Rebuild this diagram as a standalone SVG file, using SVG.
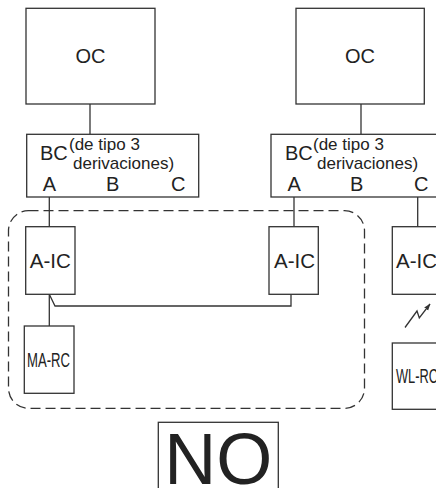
<svg xmlns="http://www.w3.org/2000/svg" width="436" height="488" viewBox="0 0 436 488">
<style>
.box{fill:#fff;stroke:#333;stroke-width:1.3}
.ln{fill:none;stroke:#333;stroke-width:1.3}
.t{font-family:"Liberation Sans",Arial,sans-serif;fill:#222}
.b{font-size:20px}
.s{font-size:17px}
.c{font-size:20.5px}
</style>
<defs>
<marker id="ah" viewBox="0 0 10 10" refX="9" refY="5" markerWidth="7" markerHeight="7" orient="auto" markerUnits="userSpaceOnUse">
<path d="M0,1.5 L10,5 L0,8.5 Z" fill="#333"/>
</marker>
</defs>
<rect width="436" height="488" fill="#fff"/>
<g id="group-dashed">
<rect x="8.5" y="210.7" width="356" height="197.6" rx="20" ry="20" fill="none" stroke="#333" stroke-width="1.3" stroke-dasharray="10 5"/>
</g>
<g id="connectors">
<path class="ln" d="M90,104 V134"/>
<path class="ln" d="M361,104 V134"/>
<path class="ln" d="M49.3,197 V226.7"/>
<path class="ln" d="M294,197 V226.7"/>
<path class="ln" d="M417.7,197 V226.7"/>
<path class="ln" d="M49.3,294.3 V326"/>
<path class="ln" d="M49.3,294.3 L55,306 H291 V294.3"/>
<path class="ln" d="M405,327.5 L417,311 L419.3,318 L430,304" marker-end="url(#ah)"/>
</g>
<g id="oc1">
<rect class="box" x="26" y="8.3" width="129" height="95.7"/>
<text class="t b" x="90.5" y="62.7" text-anchor="middle">OC</text>
</g>
<g id="oc2">
<rect class="box" x="296" y="8.3" width="128.3" height="95.7"/>
<text class="t b" x="360" y="62.7" text-anchor="middle">OC</text>
</g>
<g id="bc1">
<rect class="box" x="26.7" y="134.3" width="172" height="62.7"/>
<text class="t b" x="40" y="160">BC</text>
<text class="t s" x="69" y="149.5">(de tipo 3</text>
<text class="t s" x="73" y="168.5">derivaciones)</text>
<text class="t b" x="42.7" y="190.5">A</text>
<text class="t b" x="106" y="190.5">B</text>
<text class="t b" x="171" y="190.5">C</text>
</g>
<g id="bc2">
<rect class="box" x="271" y="134.3" width="172" height="62.7"/>
<text class="t b" x="285" y="160">BC</text>
<text class="t s" x="313" y="149.5">(de tipo 3</text>
<text class="t s" x="317" y="168.5">derivaciones)</text>
<text class="t b" x="287.5" y="190.5">A</text>
<text class="t b" x="350" y="190.5">B</text>
<text class="t b" x="414" y="190.5">C</text>
</g>
<g id="aic1">
<rect class="box" x="25.7" y="226.7" width="49.3" height="67.6"/>
<text class="t c" x="50.3" y="268" text-anchor="middle">A-IC</text>
</g>
<g id="aic2">
<rect class="box" x="269" y="226.7" width="49.3" height="67.6"/>
<text class="t c" x="294.5" y="268" text-anchor="middle">A-IC</text>
</g>
<g id="aic3">
<rect class="box" x="392.3" y="226.7" width="60" height="67.6"/>
<text class="t c" x="396" y="268">A-IC</text>
</g>
<g id="marc">
<rect class="box" x="24.3" y="326" width="49.7" height="67.3"/>
<text class="t c" x="27" y="367" textLength="43" lengthAdjust="spacingAndGlyphs">MA-RC</text>
</g>
<g id="wlrc">
<rect class="box" x="392.3" y="343" width="60" height="66.3"/>
<text class="t c" x="396" y="383" textLength="42" lengthAdjust="spacingAndGlyphs">WL-RC</text>
</g>
<g id="no">
<rect class="box" x="158.3" y="422.3" width="120" height="80"/>
<text class="t" x="218.3" y="484" font-size="72" text-anchor="middle">NO</text>
</g>
</svg>
